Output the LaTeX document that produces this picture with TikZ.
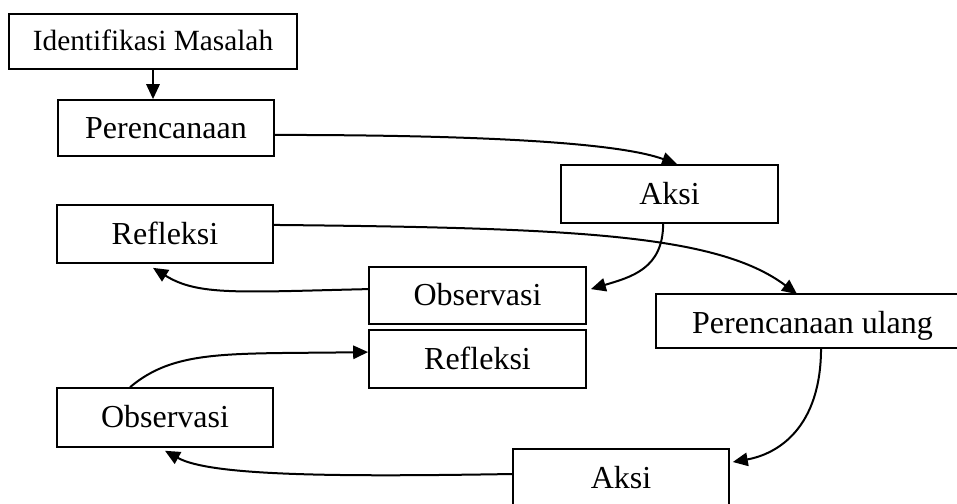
\documentclass[tikz,border=0pt]{standalone}
\usepackage{fontspec}
\setmainfont{Liberation Serif}
\usetikzlibrary{arrows.meta}

\tikzset{
	kotak/.style={draw, line width=0.65pt, inner sep=0pt, text height=7.5pt, text depth=0pt,
		font=\fontsize{12}{14}\selectfont, minimum width=81pt, minimum height=21.75pt},
	panah/.style={-{Triangle[length=5.6pt,width=5pt]}, line width=0.75pt},
}

\begin{document}
\begin{tikzpicture}[x=0.375pt,y=-0.375pt]
	\useasboundingbox (0,0) rectangle (957,503);
	\clip (0,0) rectangle (957,503);
	% kotak-kotak
	\node[kotak, minimum width=108pt, minimum height=20.6pt, text height=7.1pt, font=\fontsize{11}{13}\selectfont] (idm) at (153,41.5) {Identifikasi Masalah};
	\node[kotak, minimum height=21pt] (per) at (166,128) {Perencanaan};
	\node[kotak, minimum width=81.4pt] (aksi1) at (669.5,194) {Aksi};
	\node[kotak] (ref1) at (165,234) {Refleksi};
	\node[kotak, minimum width=81.4pt, minimum height=21.4pt] (obs1) at (477.5,295.5) {Observasi};
	\node[kotak, minimum width=81.4pt] (ref2) at (477.5,359) {Refleksi};
	\node[kotak, minimum height=22.1pt] (obs2) at (165,417.5) {Observasi};
	% kotak terpotong di tepi kanan
	\node[kotak, draw=none, minimum width=116.6pt, minimum height=19.5pt, text height=9pt] (pu) at (812.5,321) {Perencanaan ulang};
	\draw[line width=0.65pt] (pu.north east) ++(10,0) -| (pu.south west) -- ++(330,0);
	\node[kotak] (aksi2) at (621,478) {Aksi};
	% panah
	\draw[panah] (idm.south) -- (idm.south |- per.north);
	\draw[panah] ([yshift=-2.6pt]per.east) .. controls +(200,0) and +(-60,-22) .. ([xshift=2.8pt]aksi1.north);
	\draw[panah] ([yshift=3.4pt]ref1.east) .. controls +(300,3) and +(-80,-60) .. ([xshift=-5.8pt]pu.north);
	\draw[panah] ([xshift=-2.4pt]aksi1.south) .. controls +(0,45) and +(40,-12) .. ([xshift=1.5pt,yshift=2.4pt]obs1.east);
	\draw[panah] ([yshift=2.4pt]obs1.west) .. controls +(-130,3) and +(45,28) .. ([xshift=-4.5pt,yshift=-1.5pt]ref1.south);
	\draw[panah] ([xshift=-13.1pt]obs2.north) .. controls +(45,-38) and +(-140,2) .. ([yshift=2.6pt]ref2.west);
	\draw[panah] ([xshift=3.2pt]pu.south) .. controls +(0,80) and +(45,-8) .. ([xshift=1.1pt,yshift=6pt]aksi2.east);
	\draw[panah] ([yshift=1.5pt]aksi2.west) .. controls +(-180,3) and +(45,25) .. ([yshift=-1.1pt]obs2.south);
\end{tikzpicture}
\end{document}
